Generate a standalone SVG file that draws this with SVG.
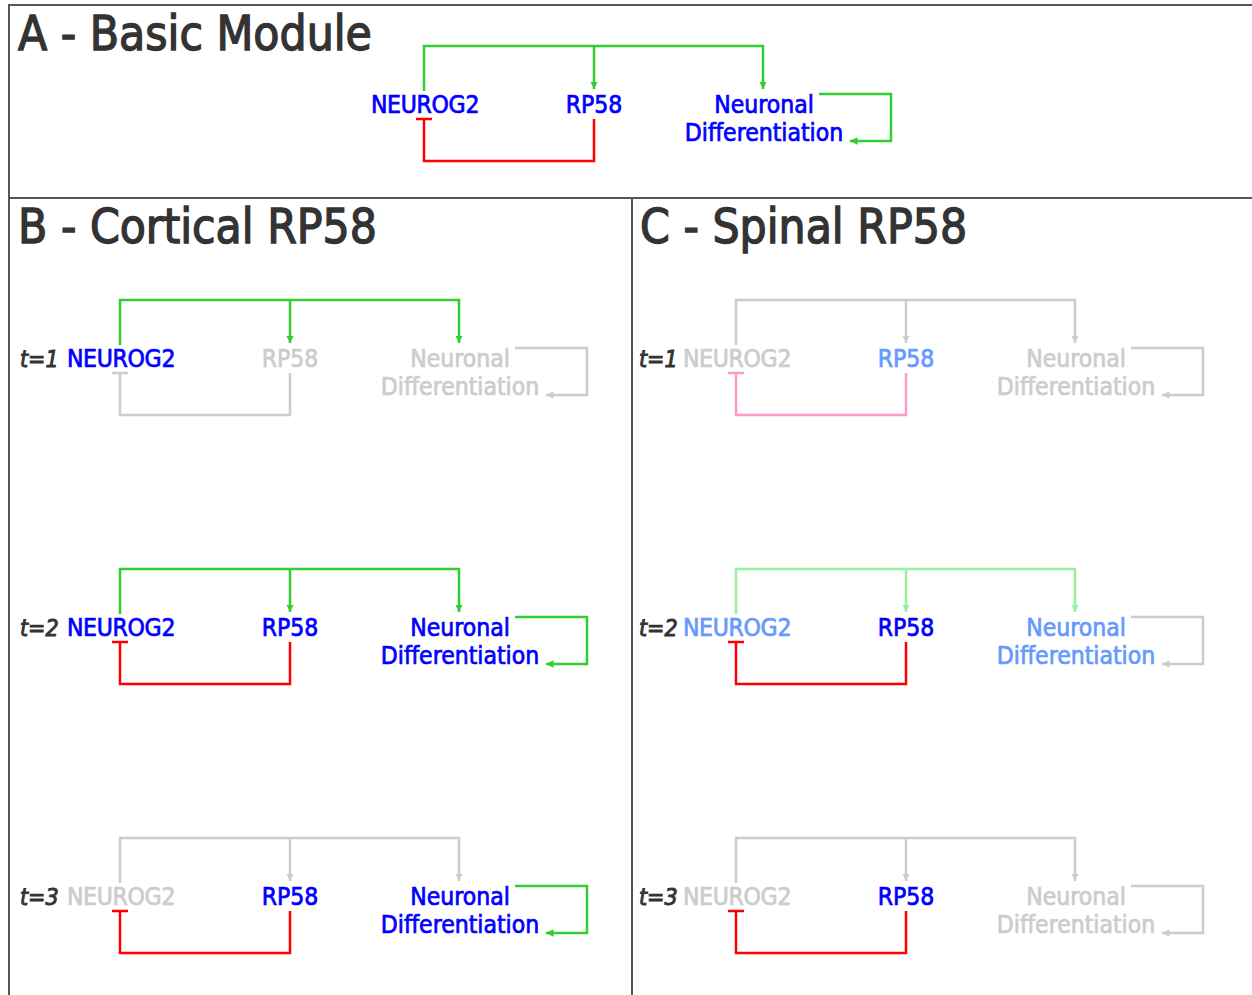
<svg xmlns="http://www.w3.org/2000/svg" width="1252" height="995" viewBox="0 0 1252 995">
  <style>
    text { font-family: "DejaVu Sans Condensed", "DejaVu Sans", sans-serif; }
    .title { font-size: 47.5px; fill: #333333; stroke: #333333; stroke-width: 1.3; }
    .time { font-size: 23px; font-style: italic; fill: #333333; stroke: #333333; stroke-width: 0.9; }
    .lbl { font-size: 24.5px; stroke-width: 0.7; }
    .nm { letter-spacing: -0.3px; }
    .mid { text-anchor: middle; }
    .blue { fill: #0000ff; stroke: #0000ff; }
    .lblue { fill: #6699ff; stroke: #6699ff; }
    .grey { fill: #cccccc; stroke: #cccccc; }
    .frame { fill: none; stroke: #555555; stroke-width: 2; }
    .wire { fill: none; stroke-width: 2.5; stroke-linejoin: miter; stroke-linecap: butt; }
    .w-green { stroke: #33cc33; }
    .w-lgreen { stroke: #99f099; }
    .w-grey { stroke: #cccccc; }
    .w-red { stroke: #ff0000; }
    .w-pink { stroke: #ff99cc; }
  </style>
  <defs>
    <marker id="arr-green" viewBox="0 0 10 10" refX="10" refY="5" markerWidth="3" markerHeight="3" orient="auto" markerUnits="strokeWidth">
      <path d="M0,0 L10,5 L0,10 Z" fill="#33cc33"/>
    </marker>
    <marker id="arr-lgreen" viewBox="0 0 10 10" refX="10" refY="5" markerWidth="3" markerHeight="3" orient="auto" markerUnits="strokeWidth">
      <path d="M0,0 L10,5 L0,10 Z" fill="#99f099"/>
    </marker>
    <marker id="arr-grey" viewBox="0 0 10 10" refX="10" refY="5" markerWidth="3" markerHeight="3" orient="auto" markerUnits="strokeWidth">
      <path d="M0,0 L10,5 L0,10 Z" fill="#cccccc"/>
    </marker>
  </defs>

  <!-- panel frames -->
  <g id="frames">
    <path class="frame" d="M1252,5 H9 V995"/>
    <path class="frame" d="M9,198 H1252"/>
    <path class="frame" d="M632,198 V995"/>
  </g>

  <!-- panel titles -->
  <g id="titles">
    <text class="title" x="18" y="50">A - Basic Module</text>
    <text class="title" x="18" y="243">B - Cortical RP58</text>
    <text class="title" x="640" y="243">C - Spinal RP58</text>
  </g>

  <!-- time-step labels -->
  <g id="time-labels">
    <text class="time" x="20" y="367">t=1</text>
    <text class="time" x="20" y="636">t=2</text>
    <text class="time" x="20" y="905">t=3</text>
    <text class="time" x="639" y="367">t=1</text>
    <text class="time" x="639" y="636">t=2</text>
    <text class="time" x="639" y="905">t=3</text>
  </g>

  <!-- connectors; each module drawn in the frame of the first cortical row -->
  <g id="connectors">
    <!-- A -->
    <g transform="translate(304,-254)">
      <path class="wire w-green" d="M120,345 V300 H459 V343" marker-end="url(#arr-green)"/>
      <path class="wire w-green" d="M290,300 V343" marker-end="url(#arr-green)"/>
      <path class="wire w-red" d="M290,373 V415 H120 V373 M112,373 H128"/>
      <path class="wire w-green" d="M515,348 H587 V395 H546" marker-end="url(#arr-green)"/>
    </g>
    <!-- B t=1 -->
    <g>
      <path class="wire w-green" d="M120,345 V300 H459 V343" marker-end="url(#arr-green)"/>
      <path class="wire w-green" d="M290,300 V343" marker-end="url(#arr-green)"/>
      <path class="wire w-grey" d="M290,373 V415 H120 V373 M112,373 H128"/>
      <path class="wire w-grey" d="M515,348 H587 V395 H546" marker-end="url(#arr-grey)"/>
    </g>
    <!-- B t=2 -->
    <g transform="translate(0,269)">
      <path class="wire w-green" d="M120,345 V300 H459 V343" marker-end="url(#arr-green)"/>
      <path class="wire w-green" d="M290,300 V343" marker-end="url(#arr-green)"/>
      <path class="wire w-red" d="M290,373 V415 H120 V373 M112,373 H128"/>
      <path class="wire w-green" d="M515,348 H587 V395 H546" marker-end="url(#arr-green)"/>
    </g>
    <!-- B t=3 -->
    <g transform="translate(0,538)">
      <path class="wire w-grey" d="M120,345 V300 H459 V343" marker-end="url(#arr-grey)"/>
      <path class="wire w-grey" d="M290,300 V343" marker-end="url(#arr-grey)"/>
      <path class="wire w-red" d="M290,373 V415 H120 V373 M112,373 H128"/>
      <path class="wire w-green" d="M515,348 H587 V395 H546" marker-end="url(#arr-green)"/>
    </g>
    <!-- C t=1 -->
    <g transform="translate(616,0)">
      <path class="wire w-grey" d="M120,345 V300 H459 V343" marker-end="url(#arr-grey)"/>
      <path class="wire w-grey" d="M290,300 V343" marker-end="url(#arr-grey)"/>
      <path class="wire w-pink" d="M290,373 V415 H120 V373 M112,373 H128"/>
      <path class="wire w-grey" d="M515,348 H587 V395 H546" marker-end="url(#arr-grey)"/>
    </g>
    <!-- C t=2 -->
    <g transform="translate(616,269)">
      <path class="wire w-lgreen" d="M120,345 V300 H459 V343" marker-end="url(#arr-lgreen)"/>
      <path class="wire w-lgreen" d="M290,300 V343" marker-end="url(#arr-lgreen)"/>
      <path class="wire w-red" d="M290,373 V415 H120 V373 M112,373 H128"/>
      <path class="wire w-grey" d="M515,348 H587 V395 H546" marker-end="url(#arr-grey)"/>
    </g>
    <!-- C t=3 -->
    <g transform="translate(616,538)">
      <path class="wire w-grey" d="M120,345 V300 H459 V343" marker-end="url(#arr-grey)"/>
      <path class="wire w-grey" d="M290,300 V343" marker-end="url(#arr-grey)"/>
      <path class="wire w-red" d="M290,373 V415 H120 V373 M112,373 H128"/>
      <path class="wire w-grey" d="M515,348 H587 V395 H546" marker-end="url(#arr-grey)"/>
    </g>
  </g>

  <!-- nodes: basic module -->
  <g id="a-neurog2"><text class="lbl nm mid blue" x="425" y="113">NEUROG2</text></g>
  <g id="a-rp58"><text class="lbl mid blue" x="594" y="113">RP58</text></g>
  <g id="a-neuro-diff"><text class="lbl mid blue" x="764" y="113">Neuronal</text><text class="lbl mid blue" x="764" y="141">Differentiation</text></g>

  <!-- nodes: cortical -->
  <g id="b1-neurog2"><text class="lbl nm mid blue" x="121" y="367">NEUROG2</text></g>
  <g id="b1-rp58"><text class="lbl mid grey" x="290" y="367">RP58</text></g>
  <g id="b1-neuro-diff"><text class="lbl mid grey" x="460" y="367">Neuronal</text><text class="lbl mid grey" x="460" y="395">Differentiation</text></g>

  <g id="b2-neurog2"><text class="lbl nm mid blue" x="121" y="636">NEUROG2</text></g>
  <g id="b2-rp58"><text class="lbl mid blue" x="290" y="636">RP58</text></g>
  <g id="b2-neuro-diff"><text class="lbl mid blue" x="460" y="636">Neuronal</text><text class="lbl mid blue" x="460" y="664">Differentiation</text></g>

  <g id="b3-neurog2"><text class="lbl nm mid grey" x="121" y="905">NEUROG2</text></g>
  <g id="b3-rp58"><text class="lbl mid blue" x="290" y="905">RP58</text></g>
  <g id="b3-neuro-diff"><text class="lbl mid blue" x="460" y="905">Neuronal</text><text class="lbl mid blue" x="460" y="933">Differentiation</text></g>

  <!-- nodes: spinal -->
  <g id="c1-neurog2"><text class="lbl nm mid grey" x="737" y="367">NEUROG2</text></g>
  <g id="c1-rp58"><text class="lbl mid lblue" x="906" y="367">RP58</text></g>
  <g id="c1-neuro-diff"><text class="lbl mid grey" x="1076" y="367">Neuronal</text><text class="lbl mid grey" x="1076" y="395">Differentiation</text></g>

  <g id="c2-neurog2"><text class="lbl nm mid lblue" x="737" y="636">NEUROG2</text></g>
  <g id="c2-rp58"><text class="lbl mid blue" x="906" y="636">RP58</text></g>
  <g id="c2-neuro-diff"><text class="lbl mid lblue" x="1076" y="636">Neuronal</text><text class="lbl mid lblue" x="1076" y="664">Differentiation</text></g>

  <g id="c3-neurog2"><text class="lbl nm mid grey" x="737" y="905">NEUROG2</text></g>
  <g id="c3-rp58"><text class="lbl mid blue" x="906" y="905">RP58</text></g>
  <g id="c3-neuro-diff"><text class="lbl mid grey" x="1076" y="905">Neuronal</text><text class="lbl mid grey" x="1076" y="933">Differentiation</text></g>
</svg>
